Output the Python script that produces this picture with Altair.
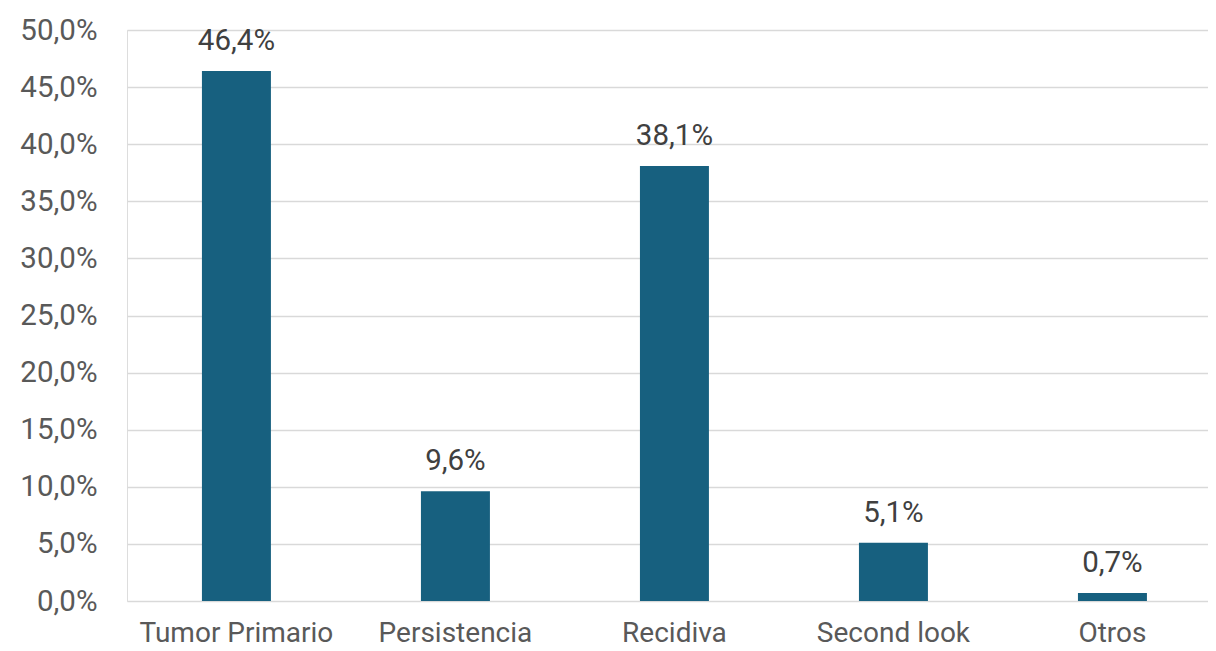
import altair as alt
import pandas as pd

categories = ["Tumor Primario", "Persistencia", "Recidiva", "Second look", "Otros"]
values = [0.464, 0.096, 0.381, 0.051, 0.007]
labels = ["46,4%", "9,6%", "38,1%", "5,1%", "0,7%"]

df = pd.DataFrame({"cat": categories, "val": values, "lab": labels})

FONT = "Roboto"

x = alt.X("cat:N", sort=categories, title=None,
          scale=alt.Scale(paddingInner=0.685, paddingOuter=0.3105, align=0.551),
          axis=alt.Axis(labelAngle=0, labelFontSize=28, labelColor="#595959", labelFont=FONT,
                        labelPadding=18, labelLimit=0, ticks=False, domain=False, grid=False))
y = alt.Y("val:Q", title=None,
          scale=alt.Scale(domain=[0, 0.5], nice=False),
          axis=alt.Axis(values=[i * 0.05 for i in range(11)],
                        labelExpr="replace(format(datum.value*100, '.1f'), '.', ',') + '%'",
                        labelFontSize=29.5, labelColor="#595959", labelFont=FONT,
                        labelPadding=30, ticks=False, domain=False,
                        grid=True, gridColor="#d9d9d9", gridWidth=1.5))

bars = alt.Chart(df).mark_bar(color="#17607F").encode(x=x, y=y)
text = alt.Chart(df).mark_text(fontSize=29.5, color="#404040", font=FONT, baseline="alphabetic", dy=-21).encode(
    x=alt.X("cat:N", sort=categories), y="val:Q", text="lab:N")

chart = (bars + text).properties(
    width=1081, height=571,
    autosize=alt.AutoSizeParams(type="none"),
    padding={"left": 119, "top": 22, "right": 0, "bottom": 50},
).configure_view(stroke=None).configure(background="white")

chart.save("out.html", embed_options={"renderer": "svg", "actions": False})
